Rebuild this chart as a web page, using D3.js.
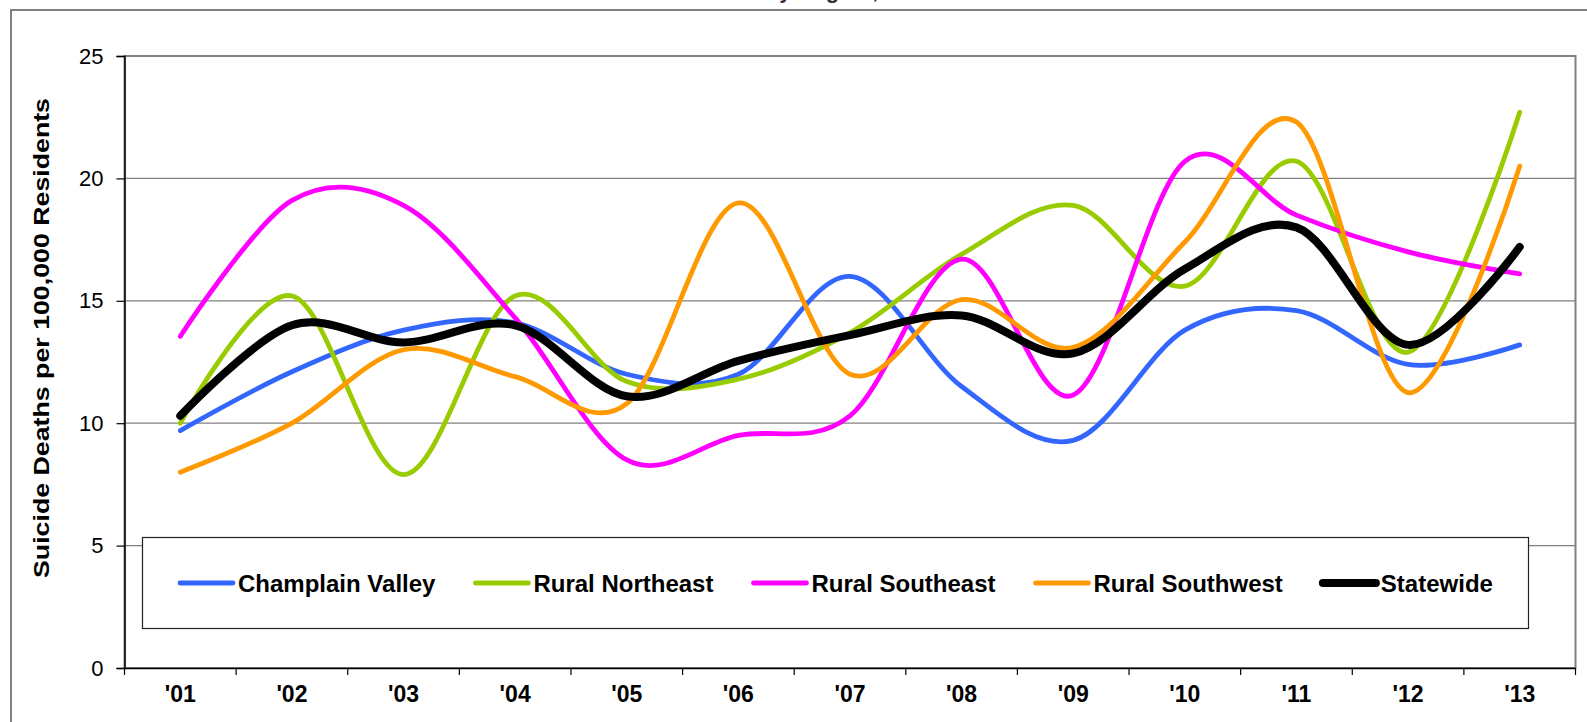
<html>
    <head>
       <style>

body {
    margin: 0;
    background: #fff;
}
text {
    font-family: "Liberation Sans", Arial, sans-serif;
}
.series {
    fill: none;
    stroke-linecap: round;
    stroke-linejoin: round;
}

       </style>
    </head>
    <body>

        <svg></svg>

        <script src="https://d3js.org/d3.v7.min.js"></script>

        <script>
// values
var years = ["'01", "'02", "'03", "'04", "'05", "'06", "'07", "'08", "'09", "'10", "'11", "'12", "'13"];
var yTicks = [0, 5, 10, 15, 20, 25];

var champlainValley = [9.7, 12.1, 13.8, 14.1, 12.0, 12.0, 16.0, 11.5, 9.3, 13.8, 14.6, 12.4, 13.2];
var ruralNortheast  = [10.0, 15.2, 7.9, 15.2, 11.7, 11.8, 13.7, 16.9, 18.9, 15.6, 20.7, 12.9, 22.7];
var ruralSoutheast  = [13.55, 19.1, 18.9, 14.3, 8.5, 9.5, 10.3, 16.7, 11.15, 20.7, 18.5, 17.0, 16.1];
var ruralSouthwest  = [8.0, 10.0, 13.0, 11.9, 10.8, 19.0, 12.0, 15.05, 13.1, 17.4, 22.3, 11.25, 20.5];
var statewide       = [10.3, 14.0, 13.3, 14.0, 11.1, 12.55, 13.6, 14.4, 12.85, 16.3, 18.0, 13.2, 17.2];

var seriesNames = ["Champlain Valley", "Rural Northeast", "Rural Southeast", "Rural Southwest", "Statewide"];
var seriesValues = [champlainValley, ruralNortheast, ruralSoutheast, ruralSouthwest, statewide];
var seriesColors = ["#3366ff", "#99cc00", "#ff00ff", "#ff9900", "#000000"];
var seriesWidths = [4.8, 4.8, 4.8, 4.8, 8];

var width = 1587,
    height = 722;

var plotLeft = 124.5, plotRight = 1575.5, plotTop = 56, plotBottom = 668;

var svg = d3.select("svg")
    .attr("width", width)
    .attr("height", height);

// outer chart frame, cut off by the picture on the right and bottom
svg.append("rect")
    .attr("x", 11).attr("y", 10)
    .attr("width", 1620).attr("height", 800)
    .attr("fill", "none")
    .attr("stroke", "#808080")
    .attr("stroke-width", 2);

// title, only the descenders show
svg.append("text")
    .attr("x", 794).attr("y", -2)
    .attr("text-anchor", "middle")
    .attr("font-size", 22)
    .attr("font-weight", "bold")
    .attr("fill", "#333")
    .text("Suicide Rates by Region, Vermont");

var x = d3.scaleBand()
    .domain(years)
    .range([plotLeft, plotRight]);

var y = d3.scaleLinear()
    .domain([0, 25])
    .range([plotBottom, plotTop]);

// plot area border (grey top/right)
svg.append("rect")
    .attr("x", plotLeft).attr("y", plotTop)
    .attr("width", plotRight - plotLeft).attr("height", plotBottom - plotTop)
    .attr("fill", "none")
    .attr("stroke", "#808080")
    .attr("stroke-width", 2);

// grid lines
svg.append("g")
    .selectAll("line")
    .data(yTicks.filter(function(d) { return d > 0 && d < 25; }))
    .enter().append("line")
    .attr("x1", plotLeft).attr("x2", plotRight)
    .attr("y1", function(d) { return y(d); })
    .attr("y2", function(d) { return y(d); })
    .attr("stroke", "#808080")
    .attr("stroke-width", 1.2);

// y axis
var yAxis = svg.append("g")
    .attr("transform", "translate(" + plotLeft + ",0)")
    .call(d3.axisLeft(y).tickValues(yTicks).tickSize(8).tickPadding(13));
yAxis.select(".domain").attr("stroke", "#000").attr("stroke-width", 1.5);
yAxis.selectAll(".tick line").attr("stroke", "#000").attr("stroke-width", 1.2);
yAxis.selectAll(".tick text")
    .attr("font-size", 22)
    .attr("font-family", "Liberation Sans, Arial, sans-serif")
    .attr("fill", "#000");

// x axis: labels at centres, ticks on category boundaries
var xAxis = svg.append("g")
    .attr("transform", "translate(0," + plotBottom + ")")
    .call(d3.axisBottom(x).tickSize(0).tickPadding(18));
xAxis.select(".domain").attr("stroke", "#000").attr("stroke-width", 1.5);
xAxis.selectAll(".tick text")
    .attr("font-size", 23)
    .attr("font-weight", "bold")
    .attr("font-family", "Liberation Sans, Arial, sans-serif")
    .attr("fill", "#000");

xAxis.selectAll(".boundary")
    .data(d3.range(years.length + 1))
    .enter().append("line")
    .attr("class", "boundary")
    .attr("x1", function(i) { return plotLeft + i * x.step(); })
    .attr("x2", function(i) { return plotLeft + i * x.step(); })
    .attr("y1", 0).attr("y2", 7)
    .attr("stroke", "#000")
    .attr("stroke-width", 1.2);

// y axis title
svg.append("text")
    .attr("transform", "translate(49,338) rotate(-90)")
    .attr("text-anchor", "middle")
    .attr("font-size", 22)
    .attr("font-weight", "bold")
    .attr("textLength", 480)
    .attr("lengthAdjust", "spacingAndGlyphs")
    .text("Suicide Deaths per 100,000 Residents");

// legend
var legend = svg.append("g");
legend.append("rect")
    .attr("x", 142.5).attr("y", 537.5)
    .attr("width", 1386).attr("height", 91)
    .attr("fill", "#fff")
    .attr("stroke", "#222")
    .attr("stroke-width", 1.2);

var lx = 180, ly = 583;
seriesNames.forEach(function(name, i) {
    legend.append("line")
        .attr("x1", lx).attr("x2", lx + 53)
        .attr("y1", ly).attr("y2", ly)
        .attr("stroke", seriesColors[i])
        .attr("stroke-width", seriesWidths[i])
        .attr("stroke-linecap", "round");
    var t = legend.append("text")
        .attr("x", lx + 58).attr("y", ly + 8.5)
        .attr("font-size", 24)
        .attr("font-weight", "bold")
        .text(name);
    lx += 58 + t.node().getComputedTextLength() + 40;
});

// series lines
var line = d3.line()
    .x(function(d, i) { return x(years[i]) + x.bandwidth() / 2; })
    .y(function(d) { return y(d); })
    .curve(d3.curveCardinal.tension(0));

svg.append("g")
    .selectAll("path")
    .data(seriesValues)
    .enter().append("path")
    .attr("class", "series")
    .attr("d", line)
    .attr("stroke", function(d, i) { return seriesColors[i]; })
    .attr("stroke-width", function(d, i) { return seriesWidths[i]; });

        </script>
    </body>
</html>
